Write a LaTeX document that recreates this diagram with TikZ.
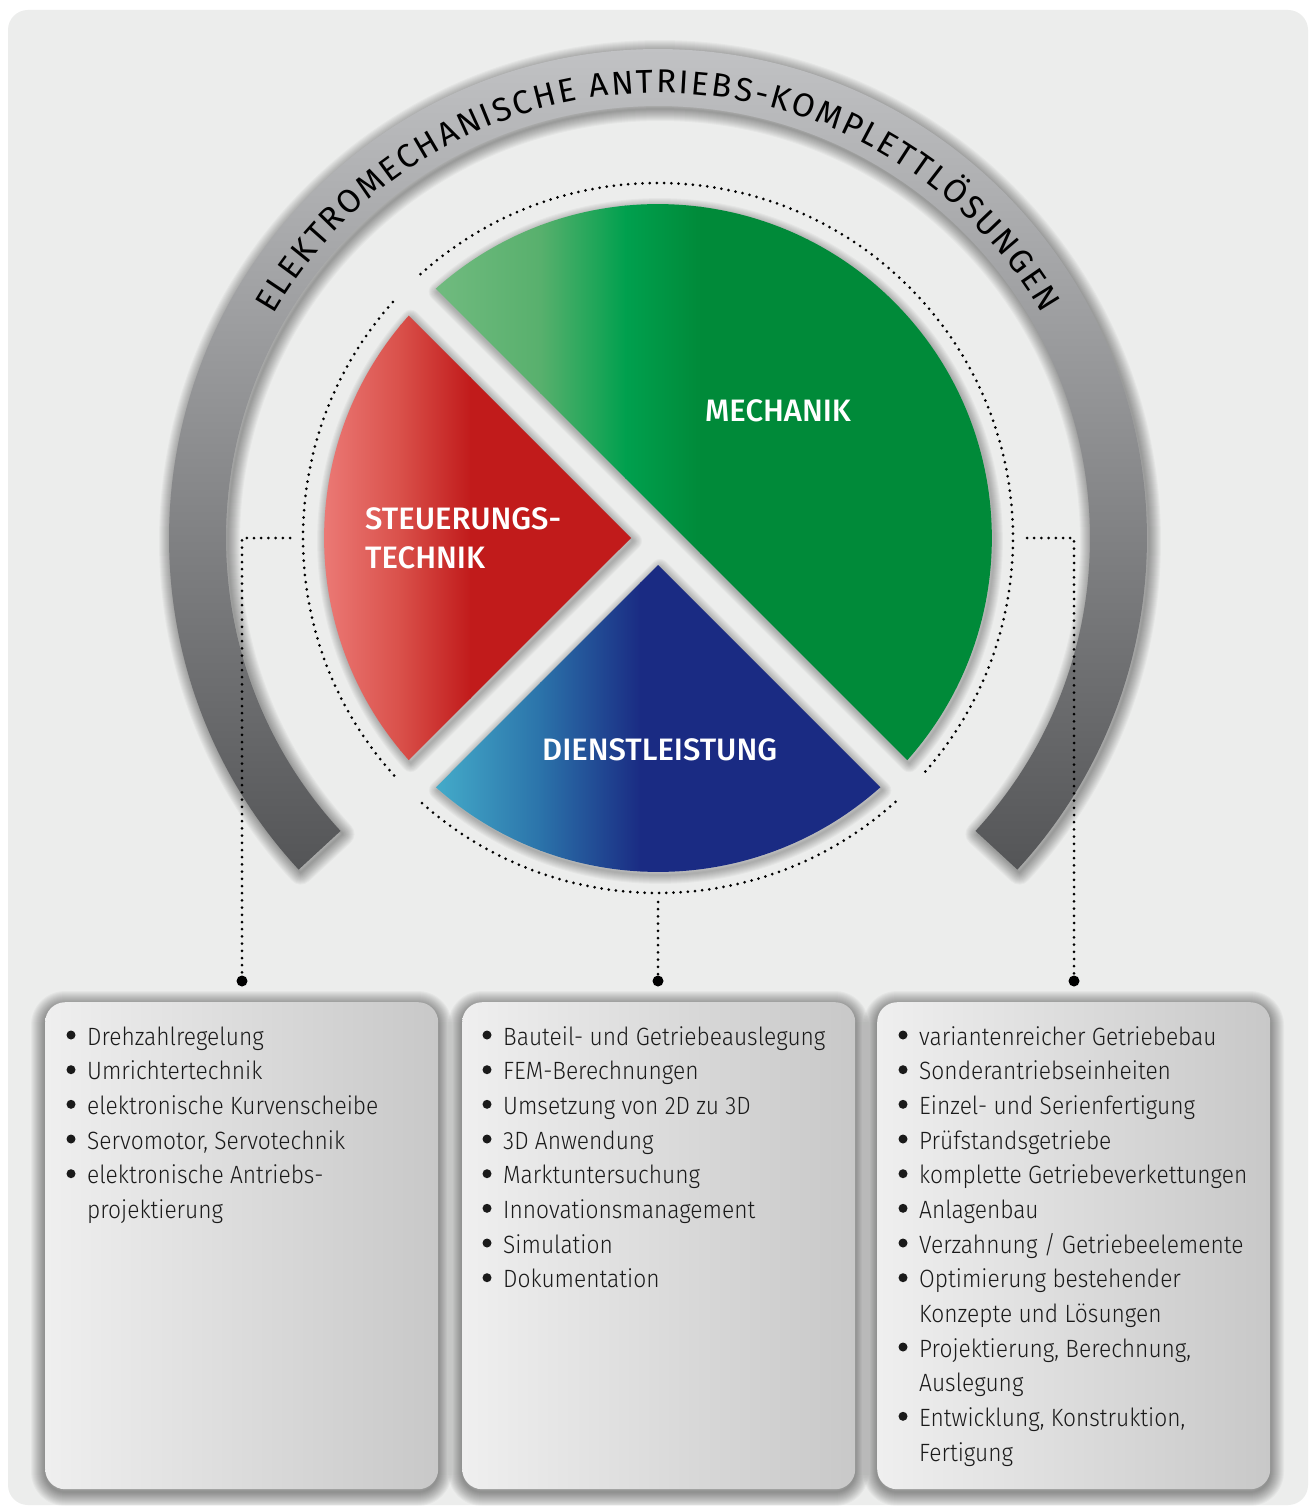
\documentclass[tikz,border=0pt]{standalone}
\usepackage{fontspec}
\setmainfont{Fira Sans}
\newfontfamily\lightf{Fira Sans Light}[FakeStretch=0.91]
\newfontfamily\medf{Fira Sans Medium}
\usetikzlibrary{calc,decorations.text}

\definecolor{bg}{HTML}{ECEDEC}
\definecolor{ringtop}{HTML}{C8C9CB}
\definecolor{ringbot}{HTML}{545557}
\definecolor{r0}{HTML}{EC7B77}
\definecolor{r1}{HTML}{D9504A}
\definecolor{r2}{HTML}{C11B1B}
\definecolor{g0}{HTML}{72BB80}
\definecolor{g1}{HTML}{58B06D}
\definecolor{g2}{HTML}{00A04E}
\definecolor{g3}{HTML}{008A39}
\definecolor{b0}{HTML}{45AECB}
\definecolor{b1}{HTML}{2B73AA}
\definecolor{b2}{HTML}{1A2B83}
\definecolor{boxl}{HTML}{EFEFEF}
\definecolor{boxr}{HTML}{C8C8C8}
\definecolor{txt}{HTML}{1A1A1A}

\def\ringpath{($(658,538)+(137.3:489)$) arc[start angle=137.3, end angle=402.7, radius=489] -- ($(658,538)+(402.7:432)$) arc[start angle=402.7, end angle=137.3, radius=432] -- cycle}
\def\redpath{(631,538) -- (408.7,315.7) arc[start angle=221.7, end angle=138.3, radius=334] -- cycle}
\def\bluepath{(658,565) -- (880.3,787.3) arc[start angle=48.3, end angle=131.7, radius=334] -- cycle}
\def\greenpath{(435.7,288.7) arc[start angle=-131.7, end angle=41.7, radius=334] -- cycle}

\begin{document}
\begin{tikzpicture}[x=1pt,y=-1pt,
  dotline/.style={line width=3pt, line cap=round, dash pattern=on 0pt off 7.2pt, black},
  enddot/.style={circle, fill=black, inner sep=0pt, minimum size=11pt},
  itemtext/.style={anchor=base west, inner sep=0pt, font=\lightf\fontsize{25}{30}\selectfont, text=txt},
  bulletdot/.style={circle, fill=txt, inner sep=0pt, minimum size=9pt},
  pielabel/.style={anchor=base west, inner sep=0pt, font=\medf\fontsize{31}{36}\selectfont, text=white},
  listbox/.style={anchor=north west, rounded corners=20pt, left color=boxl, right color=boxr, minimum width=393pt, minimum height=487pt, inner sep=0pt},
  softline/.style={black, opacity=0.03, line join=round},
]
\useasboundingbox (0,0) rectangle (1309,1506);
\fill[white] (0,0) rectangle (1309,1506);
\fill[bg, rounded corners=20pt] (8,10) rectangle (1308,1505);
\coordinate (C) at (658,538);

% outer ring
\foreach \w in {2,4,...,24} \draw[softline, line width=\w, shift={(2,3)}] \ringpath;
\shade[top color=ringtop, bottom color=ringbot] \ringpath;
\path[decorate, decoration={text along path, text color=black,
  text={|\fontsize{33}{33}\selectfont|ELEKTROMECHANISCHE ANTRIEBS-KOMPLETTLÖSUNGEN},
  text align={fit to path}}]
  ($(C)+(210.2:445)$) arc[start angle=210.2, end angle=329.8, radius=445];

% dotted circle
\draw[dotline] ($(C)+(-132:355)$) arc[start angle=-132, end angle=42, radius=355];
\draw[dotline] ($(C)+(48:355)$) arc[start angle=48, end angle=132, radius=355];
\draw[dotline] ($(C)+(138:355)$) arc[start angle=138, end angle=222, radius=355];

% wedge shadows
\foreach \w in {2,4,...,18} {
  \draw[softline, line width=\w, shift={(2,3)}] \redpath;
  \draw[softline, line width=\w, shift={(2,3)}] \bluepath;
  \draw[softline, line width=\w, shift={(2,3)}] \greenpath;
}

% red wedge
\begin{scope}
\clip \redpath;
\shade[left color=r0, right color=r1] (320,300) rectangle (401,780);
\shade[left color=r1, right color=r2] (400,300) rectangle (471,780);
\fill[r2] (470,300) rectangle (640,780);
\end{scope}
% green wedge
\begin{scope}
\clip \greenpath;
\shade[left color=g0, right color=g1] (430,200) rectangle (541,770);
\shade[left color=g1, right color=g2] (540,200) rectangle (626,770);
\shade[left color=g2, right color=g3] (625,200) rectangle (701,770);
\fill[g3] (700,200) rectangle (1000,770);
\end{scope}
% blue wedge
\begin{scope}
\clip \bluepath;
\shade[left color=b0, right color=b1] (430,560) rectangle (541,880);
\shade[left color=b1, right color=b2] (540,560) rectangle (641,880);
\fill[b2] (640,560) rectangle (890,880);
\end{scope}

\node[pielabel] (mech) at (705,421) {MECHANIK};
\node[pielabel] (steu1) at (365,529) {STEUERUNGS-};
\node[pielabel] (steu2) at (365,568) {TECHNIK};
\node[pielabel] (dienst) at (542,760) {DIENSTLEISTUNG};

% connectors
\coordinate (lstart) at (290,538);
\coordinate (mstart) at (658,902);
\coordinate (rstart) at (1027,538);
\node[enddot] (ldot) at (242,981) {};
\node[enddot] (mdot) at (658,981) {};
\node[enddot] (rdot) at (1074,981) {};
\draw[dotline] (lstart) -| (ldot);
\draw[dotline] (mstart) -- (mdot);
\draw[dotline] (rstart) -| (rdot);

% box shadows
\foreach \bx in {45,462,877} {
  \foreach \w in {2,4,...,28} \draw[softline, line width=\w, rounded corners=20pt] (\bx,1005) rectangle ++(393,487);
}
\node[listbox] (box1) at (45,1002) {};
\node[listbox] (box2) at (462,1002) {};
\node[listbox] (box3) at (877,1002) {};

% box 1
\node[itemtext] (a1) at (87,1045) {Drehzahlregelung};
\node[itemtext] (a2) at (87,1079.7) {Umrichtertechnik};
\node[itemtext] (a3) at (87,1114.3) {elektronische Kurvenscheibe};
\node[itemtext] (a4) at (87,1149) {Servomotor, Servotechnik};
\node[itemtext] (a5) at (87,1183.7) {elektronische Antriebs-};
\node[itemtext] (a6) at (87,1218.3) {projektierung};
\foreach \y [count=\i] in {1045,1079.7,1114.3,1149,1183.7}
  \node[bulletdot] (ba\i) at (71,\y-10) {};

% box 2
\node[itemtext] (b1) at (503,1045) {Bauteil- und Getriebeauslegung};
\node[itemtext] (b2) at (503,1079.7) {FEM-Berechnungen};
\node[itemtext] (b3) at (503,1114.3) {Umsetzung von 2D zu 3D};
\node[itemtext] (b4) at (503,1149) {3D Anwendung};
\node[itemtext] (b5) at (503,1183.7) {Marktuntersuchung};
\node[itemtext] (b6) at (503,1218.3) {Innovationsmanagement};
\node[itemtext] (b7) at (503,1253) {Simulation};
\node[itemtext] (b8) at (503,1287.7) {Dokumentation};
\foreach \y [count=\i] in {1045,1079.7,1114.3,1149,1183.7,1218.3,1253,1287.7}
  \node[bulletdot] (bb\i) at (487,\y-10) {};

% box 3
\node[itemtext] (c1) at (919,1045) {variantenreicher Getriebebau};
\node[itemtext] (c2) at (919,1079.7) {Sonderantriebseinheiten};
\node[itemtext] (c3) at (919,1114.3) {Einzel- und Serienfertigung};
\node[itemtext] (c4) at (919,1149) {Prüfstandsgetriebe};
\node[itemtext] (c5) at (919,1183.7) {komplette Getriebeverkettungen};
\node[itemtext] (c6) at (919,1218.3) {Anlagenbau};
\node[itemtext] (c7) at (919,1253) {Verzahnung / Getriebeelemente};
\node[itemtext] (c8) at (919,1287.7) {Optimierung bestehender};
\node[itemtext] (c9) at (919,1322.3) {Konzepte und Lösungen};
\node[itemtext] (c10) at (919,1357) {Projektierung, Berechnung,};
\node[itemtext] (c11) at (919,1391.7) {Auslegung};
\node[itemtext] (c12) at (919,1426.3) {Entwicklung, Konstruktion,};
\node[itemtext] (c13) at (919,1461) {Fertigung};
\foreach \y [count=\i] in {1045,1079.7,1114.3,1149,1183.7,1218.3,1253,1287.7,1357,1426.3}
  \node[bulletdot] (bc\i) at (903,\y-10) {};
\end{tikzpicture}
\end{document}
